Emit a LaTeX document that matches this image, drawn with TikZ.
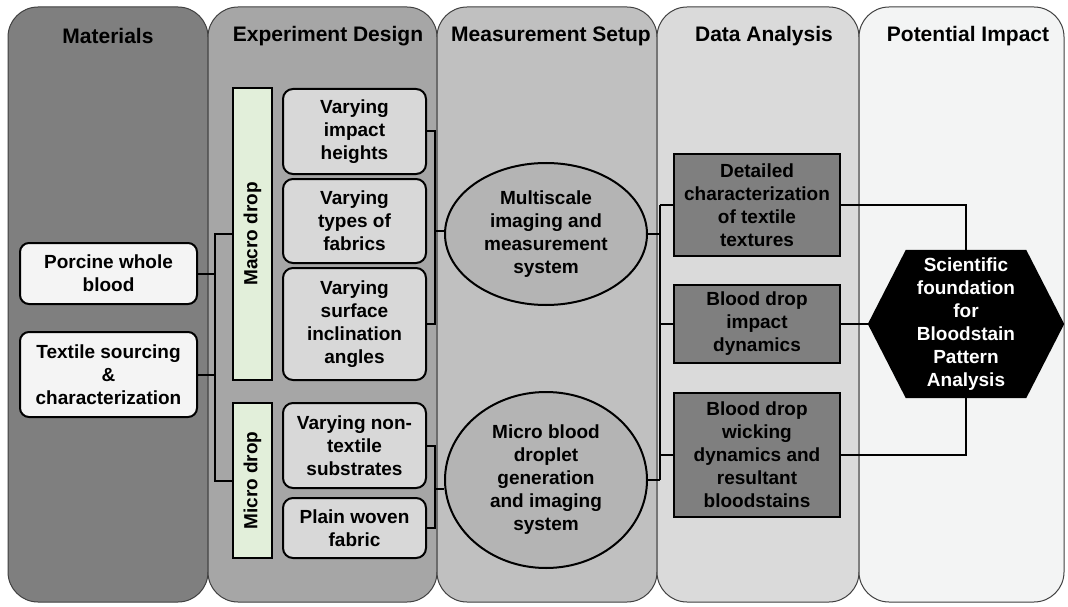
\documentclass[tikz,border=0pt]{standalone}
\usepackage{fontspec}
\setmainfont{Liberation Sans}
\usetikzlibrary{shapes.geometric,calc}
\pgfdeclarelayer{bg}
\pgfdeclarelayer{lines}
\pgfsetlayers{bg,lines,main}
\definecolor{colA}{HTML}{7F7F7F}
\definecolor{colB}{HTML}{A6A6A6}
\definecolor{colC}{HTML}{C0C0C0}
\definecolor{colD}{HTML}{DADADA}
\definecolor{colE}{HTML}{F3F4F4}
\definecolor{colborder}{HTML}{404040}
\definecolor{matfill}{HTML}{F4F4F4}
\definecolor{expfill}{HTML}{D8D8D8}
\definecolor{barfill}{HTML}{E2EFDA}
\definecolor{ellfill}{HTML}{B4B4B4}
\definecolor{dfill}{HTML}{7F7F7F}
\begin{document}
\begin{tikzpicture}[x=1pt,y=-1pt,
  font=\fontsize{19}{23}\selectfont\bfseries,
  colbox/.style={draw=colborder, line width=1pt, rounded corners=30pt},
  hdr/.style={font=\fontsize{21}{25}\selectfont\bfseries, inner sep=0pt},
  matbox/.style={rectangle, draw=black, line width=2pt, fill=matfill, rounded corners=9pt, align=center, inner sep=0pt, minimum width=177pt},
  expbox/.style={rectangle, draw=black, line width=2pt, fill=expfill, rounded corners=10pt, align=center, inner sep=0pt, minimum width=143pt},
  barbox/.style={rectangle, draw=black, line width=2pt, fill=barfill, rotate=90, minimum height=39pt, inner sep=0pt},
  ellbox/.style={ellipse, draw=black, line width=2pt, fill=ellfill, align=center, inner sep=0pt, minimum width=202pt},
  dbox/.style={rectangle, draw=black, line width=2.2pt, fill=dfill, align=center, inner sep=0pt, minimum width=166pt},
  hexnode/.style={rectangle, text=white, align=center, inner sep=0pt, minimum width=196pt, minimum height=148pt},
  conn/.style={draw=black, line width=2pt}
]
\useasboundingbox (0,0) rectangle (1068,607);
\begin{pgfonlayer}{bg}
  \fill[white] (0,0) rectangle (1068,607);
  \path[colbox, fill=colA] (8,7) rectangle (208,602);
  \path[colbox, fill=colB] (208,7) rectangle (437,602);
  \path[colbox, fill=colC] (437,7) rectangle (657,602);
  \path[colbox, fill=colD] (657,7) rectangle (859,602);
  \path[colbox, fill=colE] (859,7) rectangle (1064,602);
\end{pgfonlayer}

% headers
\node[hdr] (h1) at (108,36) {Materials};
\node[hdr] (h2) at (328,36) {Experiment Design};
\node[hdr] (h3) at (551,36) {Measurement Setup};
\node[hdr] (h4) at (764,36) {Data Analysis};
\node[hdr] (h5) at (968,36) {Potential Impact};

% materials
\node[matbox, minimum height=61pt] (porc) at (108.5,273.5) {Porcine whole\\blood};
\node[matbox, minimum height=85pt] (tex) at (108.5,374.5) {Textile sourcing\\\&\\characterization};

% bars
\node[barbox, minimum width=292pt] (macro) at (252.5,234) {Macro drop};
\node[barbox, minimum width=155pt] (micro) at (252.5,480.5) {Micro drop};

% experiment boxes
\node[expbox, minimum height=85pt] (e1) at (354.5,131.5) {Varying\\impact\\heights};
\node[expbox, minimum height=84pt] (e2) at (354.5,221) {Varying\\types of\\fabrics};
\node[expbox, minimum height=112pt] (e3) at (354.5,324) {Varying\\surface\\inclination\\angles};
\node[expbox, minimum height=85pt] (e4) at (354.5,445.5) {Varying non-\\textile\\substrates};
\node[expbox, minimum height=60pt] (e5) at (354.5,528) {Plain woven\\fabric};

% ellipses
\node[ellbox, minimum height=142pt] (ms) at (546,234) {Multiscale\\imaging and\\measurement\\system};
\node[ellbox, minimum height=176pt] (mb) at (546,480) {Micro blood\\droplet\\generation\\and imaging\\system};

% data analysis
\node[dbox, minimum height=102pt] (d1) at (757,205) {Detailed\\characterization\\of textile\\textures};
\node[dbox, minimum height=78pt] (d2) at (757,324) {Blood drop\\impact\\dynamics};
\node[dbox, minimum height=124pt] (d3) at (757,455) {Blood drop\\wicking\\dynamics and\\resultant\\bloodstains};

% impact
\node[hexnode] (hex) at (966,324) {Scientific\\foundation\\for\\Bloodstain\\Pattern\\Analysis};

\coordinate (jtop) at (215,234);
\coordinate (jbot) at (215,481);
\coordinate (bA) at (434.5,231);
\coordinate (bB) at (434.5,489);
\coordinate (rv) at (660,0);

\begin{pgfonlayer}{lines}
  % materials to bars
  \draw[conn] (macro.north |- jtop) -- (jtop) -- (jbot) -- (micro.north |- jbot);
  \draw[conn] (porc.east) -- (porc.east -| jtop);
  \draw[conn] (tex.east) -- (tex.east -| jtop);
  % macro bracket
  \draw[conn] (e1.east) -- (e1.east -| bA) -- (e3.east -| bA) -- (e3.east);
  \draw[conn] (bA) -- (bA -| ms.west);
  % micro bracket
  \draw[conn] (e4.east) -- (e4.east -| bB) -- (e5.east -| bB) -- (e5.east);
  \draw[conn] (bB) -- (bB -| mb.west);
  % ellipses to data analysis
  \draw[conn] (ms.east) -- (ms.east -| rv);
  \draw[conn] (mb.east) -- (mb.east -| rv);
  \draw[conn] (d1.west -| rv) -- (mb.east -| rv);
  \draw[conn] (d1.west -| rv) -- (d1.west);
  \draw[conn] (d2.west -| rv) -- (d2.west);
  \draw[conn] (d3.west -| rv) -- (d3.west);
  % data analysis to impact
  \draw[conn] (d1.east) -- (d1.east -| hex.north) -- (hex.north);
  \draw[conn] (d2.east) -- (hex.west);
  \draw[conn] (d3.east) -- (d3.east -| hex.south) -- (hex.south);
  % hexagon shape
  \fill[black] (hex.west) -- ($(hex.north west)+(38,0)$) -- ($(hex.north east)+(-38,0)$) -- (hex.east) -- ($(hex.south east)+(-38,0)$) -- ($(hex.south west)+(38,0)$) -- cycle;
\end{pgfonlayer}
\end{tikzpicture}
\end{document}
